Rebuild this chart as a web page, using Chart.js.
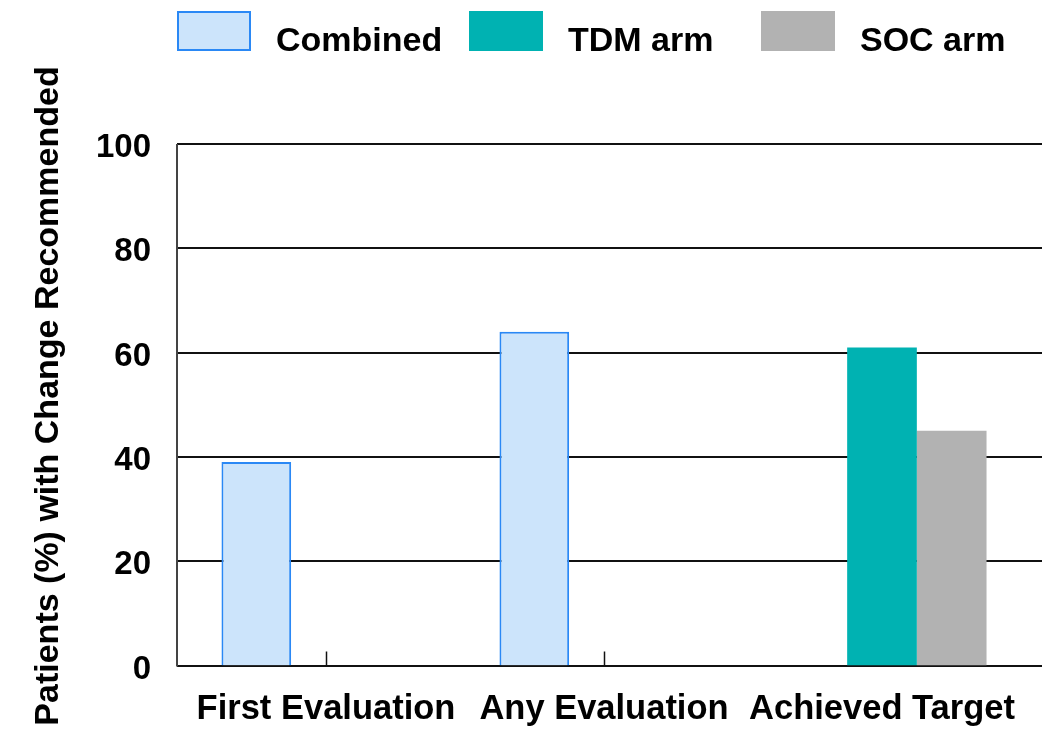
<!DOCTYPE html>
<html>
<head>
<meta charset="utf-8">
<script src="https://cdn.jsdelivr.net/npm/chart.js@4/dist/chart.umd.min.js"></script>
<style>
  html, body { margin: 0; padding: 0; background: #ffffff; }
  #wrap { position: relative; width: 1042px; height: 741px; }
</style>
</head>
<body>
<div id="wrap"><canvas id="chart" width="1042" height="741"></canvas></div>
<script>
// Categories, series and axis ticks
const categories = ['First Evaluation', 'Any Evaluation', 'Achieved Target'];
const combinedValues = [39, 64, null];
const tdmValues = [null, null, 61];
const socValues = [null, null, 45];
const seriesLabels = ['Combined', 'TDM arm', 'SOC arm'];
const yTicks = [0, 20, 40, 60, 80, 100];
const yTitle = 'Patients (%) with Change Recommended';

const FONT = '"Liberation Sans", Arial, Helvetica, sans-serif';

// Horizontal grid, left axis line, category ticks, axis title and legend
const framePlugin = {
  id: 'frame',
  beforeDatasetsDraw(chart) {
    const { ctx, scales } = chart;
    const y = scales.y, x = scales.x;
    const axisX = 177;
    ctx.save();
    ctx.strokeStyle = '#111111';
    ctx.lineWidth = 2;
    yTicks.forEach(v => {
      const py = Math.round(y.getPixelForValue(v));
      ctx.beginPath();
      ctx.moveTo(axisX, py);
      ctx.lineTo(chart.width, py);
      ctx.stroke();
    });
    categories.forEach((c, i) => {
      const px = Math.round(x.getPixelForValue(i)) + 0.5;
      ctx.lineWidth = 1.5;
      ctx.beginPath();
      ctx.moveTo(px, y.getPixelForValue(0));
      ctx.lineTo(px, y.getPixelForValue(0) - 14);
      ctx.stroke();
    });
    ctx.strokeStyle = '#444444';
    ctx.lineWidth = 2;
    ctx.beginPath();
    ctx.moveTo(axisX, y.getPixelForValue(100));
    ctx.lineTo(axisX, y.getPixelForValue(0) + 1);
    ctx.stroke();
    ctx.restore();
  },
  afterDraw(chart) {
    const { ctx } = chart;
    ctx.save();
    // Rotated y-axis title
    ctx.font = 'bold 34px ' + FONT;
    ctx.fillStyle = '#000000';
    ctx.textAlign = 'center';
    ctx.textBaseline = 'middle';
    ctx.translate(49, 396);
    ctx.rotate(-Math.PI / 2);
    ctx.fillText(yTitle, 0, 0);
    ctx.restore();

    // Legend row across the top
    ctx.save();
    ctx.font = 'bold 34px ' + FONT;
    ctx.textBaseline = 'alphabetic';
    ctx.textAlign = 'left';
    chart.data.datasets.forEach((ds, i) => {
      const bx = 177 + i * 292, by = 11, bw = 74, bh = 40;
      ctx.fillStyle = ds.backgroundColor;
      ctx.fillRect(bx, by, bw, bh);
      if (ds.borderWidth) {
        ctx.strokeStyle = ds.borderColor;
        ctx.lineWidth = 2;
        ctx.strokeRect(bx + 1, by + 1, bw - 2, bh - 2);
      }
      ctx.fillStyle = '#000000';
      ctx.fillText(ds.label, bx + 99, 50.5);
    });
    ctx.restore();
  }
};

new Chart(document.getElementById('chart'), {
  type: 'bar',
  data: {
    labels: categories,
    datasets: [
      { label: seriesLabels[0], data: combinedValues, backgroundColor: '#cce4fb', borderColor: '#2a88f5', borderWidth: 2 },
      { label: seriesLabels[1], data: tdmValues, backgroundColor: '#00b2b2', borderWidth: 0 },
      { label: seriesLabels[2], data: socValues, backgroundColor: '#b2b2b2', borderWidth: 0 }
    ]
  },
  options: {
    responsive: false,
    animation: false,
    events: [],
    layout: { padding: { top: 144, right: 21, left: 0, bottom: 0 } },
    datasets: { bar: { categoryPercentage: 0.752, barPercentage: 1.0 } },
    plugins: { legend: { display: false }, tooltip: { enabled: false } },
    scales: {
      x: {
        grid: { display: false, drawTicks: false },
        border: { display: false },
        ticks: { color: '#000000', padding: 23, maxRotation: 0, font: { family: FONT, size: 34.5, weight: 'bold' } },
        afterFit(scale) { scale.height = 75.5; }
      },
      y: {
        min: 0, max: 100,
        afterBuildTicks(scale) { scale.ticks = yTicks.map(v => ({ value: v })); },
        grid: { display: false, drawTicks: false },
        border: { display: false },
        ticks: { color: '#000000', padding: 36, labelOffset: 4, font: { family: FONT, size: 33, weight: 'bold' } },
        afterFit(scale) { scale.width = 187; }
      }
    }
  },
  plugins: [framePlugin]
});
</script>
</body>
</html>
